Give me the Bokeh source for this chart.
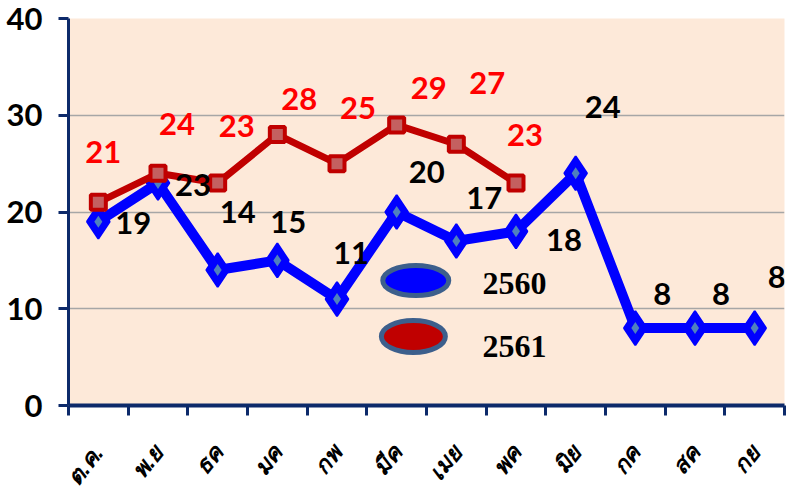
import math
from bokeh.plotting import figure
from bokeh.models import ColumnDataSource, FixedTicker, Range1d
from bokeh.core.properties import value
from bokeh.embed import file_html
from bokeh.resources import INLINE

# ---- data ----
months = ["ต.ค.", "พ.ย", "ธค", "มค", "กพ", "มีค", "เมย", "พค", "มิย", "กค", "สค", "กย"]
series_2560 = [19, 23, 14, 15, 11, 20, 17, 18, 24, 8, 8, 8]
series_2561 = [21, 24, 23, 28, 25, 29, 27, 23]
y_ticks = [0, 10, 20, 30, 40]
legend_names = ["2560", "2561"]

# label placement (screen pixels: dx right, dy down)
off_2560 = [(35, 1), (35, 2), (20, -58), (11, -38), (14, -46), (30, -40),
            (28, -43), (48, 9), (27, -66), (27, -34), (26, -34), (22, -51)]
off_2561 = [(5, -50), (19, -49), (19, -57), (22, -36), (21, -56), (32, -37),
            (31, -61), (9, -48)]

NAVY = "#0D2A6A"
BLUE = "#0000FF"
DRED = "#C00000"
NUM_FONT = "Lato"

xs_a = [i + 0.5 for i in range(len(series_2560))]
xs_b = [i + 0.5 for i in range(len(series_2561))]

src_a = ColumnDataSource(dict(
    x=xs_a, y=series_2560, t=[str(v) for v in series_2560],
    dx=[o[0] for o in off_2560], dy=[o[1] for o in off_2560]))
src_b = ColumnDataSource(dict(
    x=xs_b, y=series_2561, t=[str(v) for v in series_2561],
    dx=[o[0] for o in off_2561], dy=[o[1] for o in off_2561]))

p = figure(width=788, height=502, output_backend="svg", toolbar_location=None,
           x_range=Range1d(0, len(months)), y_range=Range1d(0, 40),
           min_border_left=68, min_border_right=4, min_border_top=18,
           min_border_bottom=97)
p.background_fill_color = "#FDE9D9"
p.border_fill_color = "white"
p.outline_line_color = None

# grid
p.xgrid.visible = False
p.ygrid.ticker = FixedTicker(ticks=y_ticks)
p.ygrid.grid_line_color = "#A6A6A6"
p.ygrid.grid_line_width = 1.5

# y axis
ya = p.yaxis[0]
ya.ticker = FixedTicker(ticks=y_ticks)
ya.axis_line_color = NAVY
ya.axis_line_width = 3
ya.major_tick_line_color = NAVY
ya.major_tick_line_width = 3
ya.major_tick_out = 10
ya.major_tick_in = 0
ya.minor_tick_line_color = None
ya.major_label_text_font = NUM_FONT
ya.major_label_text_font_style = "bold"
ya.major_label_text_font_size = "31px"
ya.major_label_text_color = "black"
ya.major_label_standoff = 16

# x axis
xa = p.xaxis[0]
xa.ticker = FixedTicker(ticks=xs_a, minor_ticks=list(range(len(months) + 1)))
xa.major_label_overrides = {x: m for x, m in zip(xs_a, months)}
xa.axis_line_color = NAVY
xa.axis_line_width = 4
xa.major_tick_line_color = None
xa.major_tick_out = 0
xa.major_tick_in = 0
xa.minor_tick_line_color = NAVY
xa.minor_tick_line_width = 3
xa.minor_tick_out = 10
xa.minor_tick_in = 0
xa.major_label_orientation = 0.9
xa.major_label_text_font_size = "23px"
xa.major_label_text_font_style = "bold italic"
xa.major_label_text_color = "black"
xa.major_label_standoff = 33

# series 2560 (blue)
p.line("x", "y", source=src_a, line_color=BLUE, line_width=10, line_join="round")
p.scatter("x", "y", source=src_a, marker="diamond", size=34,
          fill_color=BLUE, line_color=BLUE, line_width=2)
p.scatter("x", "y", source=src_a, marker="diamond", size=12,
          fill_color="#4F81BD", line_color=None)

# series 2561 (red)
p.line("x", "y", source=src_b, line_color=DRED, line_width=7, line_join="round")
p.scatter("x", "y", source=src_b, marker="square", size=15,
          fill_color="#C46060", line_color=DRED, line_width=4)

# data labels
p.text("x", "y", text="t", source=src_a, x_offset="dx", y_offset="dy",
       text_font=value(NUM_FONT), text_font_style="bold", text_font_size="31px",
       text_color="black", text_align="center", text_baseline="middle")
p.text("x", "y", text="t", source=src_b, x_offset="dx", y_offset="dy",
       text_font=value(NUM_FONT), text_font_style="bold", text_font_size="31px",
       text_color="#FF0000", text_align="center", text_baseline="middle")

# legend (custom, ellipses + serif text)
leg = ColumnDataSource(dict(
    x=[5.82, 5.78], y=[12.92, 7.13], w=[66, 64], h=[30, 32],
    c=[BLUE, DRED], tx=[6.94, 6.94], ty=[12.6, 6.1], t=legend_names))
p.ellipse("x", "y", width="w", height="h", width_units="screen",
          height_units="screen", source=leg, fill_color="c",
          line_color="#3C5F8C", line_width=5)
p.text("tx", "ty", text="t", source=leg, text_font=value("Liberation Serif"),
       text_font_style="bold", text_font_size="32px", text_color="black",
       text_align="left", text_baseline="middle")

open("out.html", "w").write(file_html(p, INLINE))
